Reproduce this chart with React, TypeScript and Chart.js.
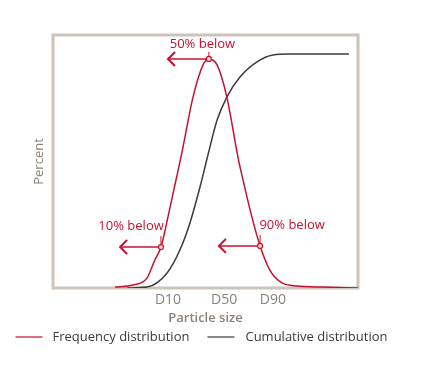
import React, { useEffect, useRef } from "react";
import { Chart, registerables } from "chart.js";

Chart.register(...registerables);

// Frequency distribution (x = particle size, relative units; y = percent)
const freqX = [20.3, 26.2, 30.8, 33.4, 35.4, 37.7, 40.0, 42.3, 45.9, 49.2, 51.1, 53.8, 57.0, 60.7, 62.3, 65.2, 67.9, 71.1, 75.1, 80.0, 88.5, 100];
const freqY = [0.4, 1.3, 4.3, 12.2, 17.8, 30.9, 45.0, 59.1, 83.0, 97.0, 99.6, 97.0, 83.0, 56.5, 47.0, 30.9, 18.3, 7.8, 2.2, 0.9, 0.4, 0];

// Cumulative distribution
const cumX = [24.3, 30.8, 37.4, 41.6, 44.9, 48.2, 50.8, 53.8, 57.0, 61.3, 66.9, 72.1, 77.7, 97.0];
const cumY = [0, 0.4, 6.5, 16.5, 28.3, 43.9, 57.8, 73.0, 83.0, 91.7, 98.3, 101.3, 101.7, 101.7];

// Axis ticks
const tickValues = [37.7, 56.1, 72.1];
const tickLabels = ["D10", "D50", "D90"];

// Annotations (markers on frequency curve, arrow tips, labels)
const markX = [35.4, 51.1, 67.9];
const markY = [17.8, 99.6, 18.3];
const arrowTipX = [22.0, 37.7, 54.4];
const noteText = ["10% below", "50% below", "90% below"];
const noteX = [25.6, 49.0, 78.4];

const seriesLabels = ["Frequency distribution", "Cumulative distribution"];

const RED = "#c8102e";
const DARK = "#3b3a36";
const FONT = "'Open Sans', sans-serif";

const frameplugin = {
  id: "frame",
  beforeDatasetsDraw(chart: any) {
    const { ctx, chartArea } = chart;
    ctx.save();
    ctx.strokeStyle = "#cdc3b9";
    ctx.lineWidth = 3;
    ctx.strokeRect(chartArea.left, chartArea.top, chartArea.right - chartArea.left, chartArea.bottom - chartArea.top);
    ctx.restore();
  },
};

const notesPlugin = {
  id: "notes",
  afterDatasetsDraw(chart: any) {
    const { ctx, scales } = chart;
    const xs = scales.x;
    const ys = scales.y;
    ctx.save();
    for (let i = 0; i < markX.length; i++) {
      const px = xs.getPixelForValue(markX[i]);
      const py = ys.getPixelForValue(markY[i]);
      const tx = xs.getPixelForValue(arrowTipX[i]);
      // arrow shaft
      ctx.strokeStyle = RED;
      ctx.lineWidth = 1.5;
      ctx.beginPath();
      ctx.moveTo(px, py);
      ctx.lineTo(tx, py);
      ctx.stroke();
      // arrow head
      ctx.lineWidth = 2;
      ctx.beginPath();
      ctx.moveTo(tx + 7, py - 7);
      ctx.lineTo(tx, py);
      ctx.lineTo(tx + 7, py + 7);
      ctx.stroke();
      // leader tick
      ctx.lineWidth = 1;
      ctx.beginPath();
      ctx.moveTo(px, py - (i === 1 ? 7 : 11));
      ctx.lineTo(px, py - 2);
      ctx.stroke();
      // marker
      ctx.beginPath();
      ctx.arc(px, py, 2.5, 0, Math.PI * 2);
      ctx.fillStyle = "#f6d9cc";
      ctx.fill();
      ctx.lineWidth = 1.2;
      ctx.stroke();
      // label
      ctx.fillStyle = RED;
      ctx.font = `13px ${FONT}`;
      ctx.textAlign = "center";
      ctx.textBaseline = "middle";
      ctx.fillText(noteText[i], xs.getPixelForValue(noteX[i]), py - (i === 1 ? 15 : 21));
    }
    ctx.restore();
  },
};

const legendPlugin = {
  id: "customLegend",
  afterDraw(chart: any) {
    const { ctx } = chart;
    ctx.save();
    ctx.font = `13px ${FONT}`;
    const w1 = ctx.measureText(seriesLabels[0]).width;
    const w2 = ctx.measureText(seriesLabels[1]).width;
    const total = 27 + 10 + w1 + 18 + 27 + 11 + w2;
    let x = 201.5 - total / 2;
    const y = 337;
    const colors = [RED, DARK];
    const widths = [w1, w2];
    for (let i = 0; i < 2; i++) {
      ctx.strokeStyle = colors[i];
      ctx.lineWidth = 1.2;
      ctx.beginPath();
      ctx.moveTo(x, y);
      ctx.lineTo(x + 27, y);
      ctx.stroke();
      x += 27 + 10 + (i === 1 ? 1 : 0);
      ctx.fillStyle = "#3a3a3a";
      ctx.textAlign = "left";
      ctx.textBaseline = "middle";
      ctx.fillText(seriesLabels[i], x, y);
      x += widths[i] + 18;
    }
    ctx.restore();
  },
};

export default function App() {
  const ref = useRef<HTMLCanvasElement>(null);
  useEffect(() => {
    if (!ref.current) return;
    const chart = new Chart(ref.current, {
      type: "line",
      data: {
        datasets: [
          {
            label: seriesLabels[0],
            data: freqX.map((x, i) => ({ x, y: freqY[i] })),
            borderColor: RED,
            borderWidth: 1.5,
            pointRadius: 0,
            cubicInterpolationMode: "monotone",
            fill: false,
          },
          {
            label: seriesLabels[1],
            data: cumX.map((x, i) => ({ x, y: cumY[i] })),
            borderColor: DARK,
            borderWidth: 1.5,
            pointRadius: 0,
            cubicInterpolationMode: "monotone",
            fill: false,
          },
        ],
      },
      options: {
        animation: false,
        responsive: false,
        layout: { padding: { left: 0, right: 66, top: 35, bottom: 0 } },
        plugins: { legend: { display: false }, tooltip: { enabled: false }, title: { display: false } },
        scales: {
          x: {
            type: "linear",
            min: 0,
            max: 100,
            grid: { display: false, drawTicks: false },
            border: { display: false },
            afterBuildTicks: (axis: any) => {
              axis.ticks = tickValues.map((v) => ({ value: v }));
            },
            afterFit: (scale: any) => {
              scale.height = 81;
            },
            ticks: {
              autoSkip: false,
              maxRotation: 0,
              padding: 4,
              color: "#8c8279",
              font: { family: FONT, size: 14 },
              callback: (_v: any, i: number) => tickLabels[i],
            },
            title: {
              display: true,
              text: "Particle size",
              color: "#8c8279",
              font: { family: FONT, size: 13, weight: "600" },
              padding: { top: 0, bottom: 43 },
            },
          },
          y: {
            type: "linear",
            min: 0,
            max: 110,
            grid: { display: false, drawTicks: false },
            border: { display: false },
            ticks: { display: false },
            afterFit: (scale: any) => {
              scale.width = 53;
            },
            title: {
              display: true,
              text: "Percent",
              color: "#8c8279",
              font: { family: FONT, size: 13 },
              padding: { top: 31, bottom: 0 },
            },
          },
        },
      },
      plugins: [frameplugin, notesPlugin, legendPlugin],
    } as any);
    return () => chart.destroy();
  }, []);
  return (
    <div style={{ position: "fixed", left: 0, top: 0, width: 424, height: 369, background: "#fff" }}>
      <canvas ref={ref} width={424} height={369} style={{ display: "block" }} />
    </div>
  );
}
